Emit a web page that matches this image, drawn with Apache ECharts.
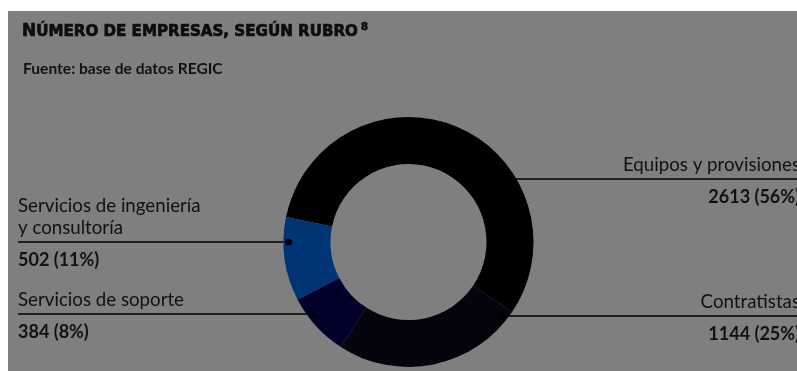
<!DOCTYPE html>
<html>
<head>
<meta charset="utf-8">
<script src="https://cdn.jsdelivr.net/npm/echarts@6/dist/echarts.min.js"></script>
<style>
  html, body { margin: 0; padding: 0; background: #ffffff; }
  #chart { width: 797px; height: 371px; }
</style>
</head>
<body>
<div id="chart"></div>
<script>
// Companies by sector
const categories = [
  'Equipos y provisiones',
  'Contratistas',
  'Servicios de soporte',
  'Servicios de ingeniería\ny consultoría'
];
const companies = [2613, 1144, 384, 502];
const sliceColors = ['#000000', '#04040c', '#00002a', '#003575'];

// Label placement: which side of the ring and the height of each leader line
const labelSide = ['right', 'right', 'left', 'left'];
const leaderY = [179, 316, 314, 242];

const FONT = 'Lato, "Open Sans", sans-serif';
const TITLE_FONT = '"DejaVu Sans", sans-serif';
const INK = '#0d0d0d';
const CX = 408.5, CY = 242, R_IN = 78, R_OUT = 125, R_DOT = 120;
const LEFT_X = 18, RIGHT_X = 800;

const total = companies.reduce((a, b) => a + b, 0);
const pct = v => Math.round(v / total * 100);

// point where a horizontal leader line meets the ring
function anchorX(i) {
  const dy = leaderY[i] - CY;
  const dx = Math.sqrt(Math.max(0, R_DOT * R_DOT - dy * dy));
  return labelSide[i] === 'left' ? CX - dx : CX + dx;
}

const pieData = categories.map((name, i) => ({
  name: name,
  value: companies[i],
  itemStyle: { color: sliceColors[i] }
}));

const chart = echarts.init(document.getElementById('chart'), null, { renderer: 'canvas' });

const common = {
  type: 'pie',
  center: [CX, CY],
  radius: [R_IN, R_OUT],
  startAngle: 168.5,
  clockwise: true,
  avoidLabelOverlap: false,
  silent: true,
  animation: false,
  emphasis: { disabled: true }
};

// heavy small-caps heading
const heavy = { fontFamily: TITLE_FONT, fontWeight: 'bold', color: INK, textBorderColor: INK, textBorderWidth: 0.7 };

chart.setOption({
  backgroundColor: '#ffffff',
  title: [
    {
      left: 17, top: 13,
      text: '{n|N}{s|ÚMERO DE EMPRESAS, SEGÚN RUBRO}{u|8}',
      textStyle: {
        rich: {
          n: Object.assign({ fontSize: 17, verticalAlign: 'bottom', lineHeight: 22 }, heavy),
          s: Object.assign({ fontSize: 15.1, verticalAlign: 'bottom', lineHeight: 22 }, heavy),
          u: Object.assign({ fontSize: 10, verticalAlign: 'top', lineHeight: 22, padding: [4, 0, 0, 3] }, heavy)
        }
      }
    },
    {
      left: 18, top: 56,
      text: 'Fuente: base de datos REGIC',
      textStyle: { fontFamily: FONT, fontSize: 15.6, fontWeight: 700, color: '#111111' }
    }
  ],
  graphic: [
    { type: 'rect', z: -10, silent: true, shape: { x: 8, y: 11, width: 789, height: 360 }, style: { fill: '#7f7f7f' } }
  ].concat(categories.map((c, i) => ({
    type: 'circle', z: 100, silent: true,
    shape: { cx: anchorX(i), cy: leaderY[i], r: 3.5 },
    style: { fill: '#000000' }
  }))),
  series: [
    Object.assign({}, common, {
      name: 'Rubro',
      data: pieData,
      label: {
        show: true,
        position: 'outside',
        formatter: '{b}',
        color: '#111111',
        fontFamily: FONT,
        fontSize: 18.7,
        lineHeight: 22
      },
      labelLine: { show: true, lineStyle: { color: '#000000', width: 1.5 } },
      labelLayout: function (p) {
        const i = p.dataIndex;
        const left = labelSide[i] === 'left';
        const ax = anchorX(i);
        return {
          x: left ? LEFT_X : RIGHT_X,
          y: leaderY[i] - 3,
          align: left ? 'left' : 'right',
          verticalAlign: 'bottom',
          labelLinePoints: [[ax, leaderY[i]], [ax, leaderY[i]], [left ? LEFT_X : 797, leaderY[i]]]
        };
      }
    }),
    Object.assign({}, common, {
      name: 'Valores',
      z: 1,
      data: categories.map((name, i) => ({ name: name, value: companies[i] })),
      itemStyle: { color: 'rgba(0,0,0,0)' },
      label: {
        show: true,
        position: 'outside',
        formatter: p => p.value + ' (' + pct(p.value) + '%)',
        color: '#111111',
        fontFamily: FONT,
        fontSize: 18,
        fontWeight: 700,
        lineHeight: 22
      },
      labelLine: { show: false },
      labelLayout: function (p) {
        const i = p.dataIndex;
        const left = labelSide[i] === 'left';
        return {
          x: left ? LEFT_X : RIGHT_X,
          y: leaderY[i] + 7,
          align: left ? 'left' : 'right',
          verticalAlign: 'top'
        };
      }
    })
  ]
});
</script>
</body>
</html>
